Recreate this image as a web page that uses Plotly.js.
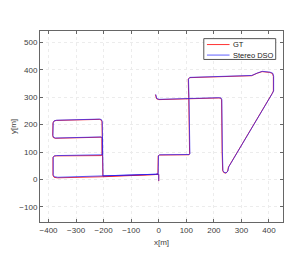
<!DOCTYPE html>
<html>
<head>
<meta charset="utf-8">
<script src="https://cdn.plot.ly/plotly-3.0.1.min.js"></script>
<style>html,body{margin:0;padding:0;background:#fff;}#chart{width:305px;height:273px;}</style>
</head>
<body>
<div id="chart"></div>
<script>
// Ground truth trajectory (m)
const gtX = [0, 0, -12, -200, -368, -380, -384, -384, -380, -372, -209, -206, -206, -209, -376, -383, -385, -384, -380, -372, -216, -209, -206, -205, -203, -12, -3, -2, 3, 110, 112, 109, 107, 112, 337, 357, 375, 403, 413, 416, 416, 411, 258, 253, 250, 244, 236, 232, 230, 228, 225, 218, 110, 0, -8, -10, -12];
const gtY = [-6, 18, 18, 10, 6, 8, 15, 80, 85, 86, 87, 89, 150, 154, 150, 153, 160, 206, 213, 215, 219, 217, 210, 90, 12, 18, 20, 86, 89, 90, 93, 290, 365, 371, 378, 387, 393, 390, 386, 375, 322, 312, 56, 45, 30, 23, 25, 32, 100, 290, 296, 297, 294, 291, 294, 300, 309];
// Stereo DSO estimated trajectory (m)
const dsoX = [0, 0, -12, -200, -366, -379, -383, -383, -379, -370, -208, -205, -205, -208, -375, -382, -384, -383, -379, -370, -214, -208, -205, -204, -202, -12, -2, -1, 4, 111, 113, 110, 108, 113, 338, 358, 376, 404, 414, 417, 417, 412, 259, 254, 251, 245, 237, 233, 231, 229, 226, 219, 111, 1, -7, -9, -11];
const dsoY = [-5, 19, 19, 12, 8, 10, 17, 82, 86, 87, 88, 90, 151, 155, 151, 154, 161, 207, 214, 216, 220, 218, 211, 91, 13, 19, 21, 87, 90, 91, 94, 291, 366, 372, 379, 388, 394, 391, 387, 376, 323, 313, 57, 46, 31, 24, 26, 33, 101, 291, 297, 298, 295, 292, 295, 301, 310];
const xTicks = [-400, -300, -200, -100, 0, 100, 200, 300, 400];
const yTicks = [-100, 0, 100, 200, 300, 400, 500];
const seriesNames = ['GT', 'Stereo DSO'];
const seriesColors = ['rgba(255,0,0,0.8)', 'rgba(30,30,255,0.7)'];

const fam = 'Liberation Sans, Arial, sans-serif';
const font = {family: fam, size: 8, color: '#404040'};
const traces = [
  {x: gtX, y: gtY, mode: 'lines', name: seriesNames[0], line: {color: seriesColors[0], width: 1}, showlegend: false},
  {x: dsoX, y: dsoY, mode: 'lines', name: seriesNames[1], line: {color: seriesColors[1], width: 1}, showlegend: false}
];
const axisCommon = {
  showline: true, linecolor: '#666', linewidth: 1, mirror: 'ticks',
  ticks: 'inside', ticklen: 3, tickcolor: '#666', tickwidth: 1,
  showgrid: true, gridcolor: '#ececec', griddash: 'dot', gridwidth: 1,
  zeroline: false, tickfont: font
};
// legend box drawn in paper coordinates
const lgX0 = 0.674, lgX1 = 0.97, lgY0 = 0.851, lgY1 = 0.96;
const lgLineX0 = 0.687, lgLineX1 = 0.78, lgTextX = 0.788;
const lgRowY = [0.929, 0.874];
const shapes = [
  {type: 'rect', xref: 'paper', yref: 'paper', x0: lgX0, x1: lgX1, y0: lgY0, y1: lgY1,
   line: {color: '#555', width: 1}, fillcolor: '#fff', layer: 'above'}
];
const annotations = [];
seriesNames.forEach((n, i) => {
  shapes.push({type: 'line', xref: 'paper', yref: 'paper', x0: lgLineX0, x1: lgLineX1, y0: lgRowY[i], y1: lgRowY[i],
               line: {color: seriesColors[i], width: 1}, layer: 'above'});
  annotations.push({xref: 'paper', yref: 'paper', x: lgTextX, y: lgRowY[i], xanchor: 'left', yanchor: 'middle',
                    text: n, showarrow: false, font: {family: fam, size: 7.5, color: '#222'}});
});
const layout = {
  width: 305, height: 273,
  margin: {l: 40, r: 22, t: 31, b: 51},
  paper_bgcolor: '#fff', plot_bgcolor: '#fff',
  font: font,
  showlegend: false,
  shapes: shapes,
  annotations: annotations,
  xaxis: Object.assign({}, axisCommon, {range: [-431, 451], tickvals: xTicks,
          title: {text: 'x[m]', font: font, standoff: 5}}),
  yaxis: Object.assign({}, axisCommon, {range: [-155, 541], tickvals: yTicks,
          title: {text: 'y[m]', font: font, standoff: 1}})
};
Plotly.newPlot('chart', traces, layout, {displayModeBar: false, staticPlot: true});
</script>
</body>
</html>
